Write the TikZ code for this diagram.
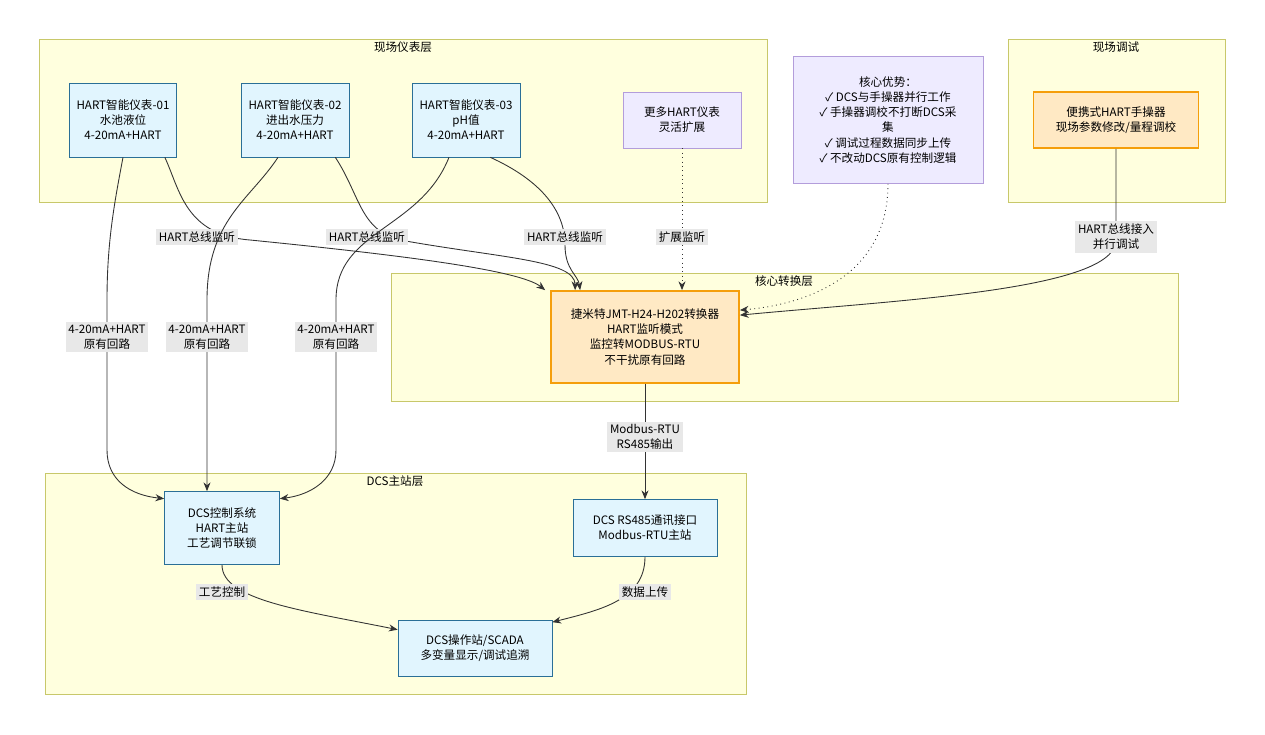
\documentclass[tikz,border=0pt]{standalone}
\usepackage{fontspec}
\setmainfont{Noto Sans CJK SC}
\usetikzlibrary{arrows.meta,positioning}
\definecolor{layerfill}{HTML}{FFFFDE}
\definecolor{layerdraw}{HTML}{C8C86A}
\definecolor{nodefill}{HTML}{E1F5FE}
\definecolor{nodedraw}{HTML}{2A6F97}
\definecolor{purfill}{HTML}{EEEBFF}
\definecolor{purdraw}{HTML}{B39DDB}
\definecolor{orfill}{HTML}{FFE9C4}
\definecolor{ordraw}{HTML}{F59E0B}
\definecolor{lblfill}{HTML}{E8E8E8}
\begin{document}
\begin{tikzpicture}[
  x=0.02cm, y=-0.02cm,
  > = {Stealth[length=5pt,width=4pt]},
  font=\fontsize{6.6}{8.6}\selectfont,
  layer/.style = {draw=layerdraw,fill=layerfill,line width=0.4pt},
  box/.style = {draw=nodedraw,fill=nodefill,align=center,inner sep=0pt},
  purple box/.style = {draw=purdraw,fill=purfill,align=center,inner sep=0pt},
  orange box/.style = {draw=ordraw,fill=orfill,line width=1pt,align=center,inner sep=0pt},
  lbl/.style = {fill=lblfill,inner sep=1.5pt,align=center},
  link/.style = {->,draw=black!80,line width=0.5pt},
  dotlink/.style = {->,draw=black!80,line width=0.5pt,dotted}
  ]
  \useasboundingbox (0,0) rectangle (1265,734);

  % layers
  \draw[layer] (39,39) rectangle (767,202);
  \node at (403,47) {现场仪表层};
  \draw[layer] (1008,39) rectangle (1225,202);
  \node at (1116,47) {现场调试};
  \draw[layer] (391,273) rectangle (1178,401);
  \node at (784,281) {核心转换层};
  \draw[layer] (45,473) rectangle (746,694);
  \node at (395,481) {DCS主站层};

  % nodes
  \node[box,minimum width=2.14cm,minimum height=1.48cm] (inst1) at (123,120) {HART智能仪表-01\\水池液位\\4-20mA+HART};
  \node[box,minimum width=2.16cm,minimum height=1.48cm] (inst2) at (295,120) {HART智能仪表-02\\进出水压力\\4-20mA+HART};
  \node[box,minimum width=2.16cm,minimum height=1.48cm] (inst3) at (466,120) {HART智能仪表-03\\pH值\\4-20mA+HART};
  \node[purple box,minimum width=2.36cm,minimum height=1.12cm] (more) at (682,120) {更多HART仪表\\灵活扩展};
  \node[purple box,minimum width=3.8cm,minimum height=2.54cm] (adv) at (888,120) {核心优势：\\✓ DCS与手操器并行工作\\✓ 手操器调校不打断DCS采\\集\\✓ 调试过程数据同步上传\\✓ 不改动DCS原有控制逻辑};
  \node[orange box,minimum width=3.3cm,minimum height=1.12cm] (hand) at (1116,120) {便携式HART手操器\\现场参数修改/量程调校};
  \node[orange box,minimum width=3.76cm,minimum height=1.84cm] (conv) at (645,337) {捷米特JMT-H24-H202转换器\\HART监听模式\\监控转MODBUS-RTU\\不干扰原有回路};
  \node[box,minimum width=2.3cm,minimum height=1.46cm] (dcs) at (222,528) {DCS控制系统\\HART主站\\工艺调节联锁};
  \node[box,minimum width=2.88cm,minimum height=1.14cm] (rs) at (645,528) {DCS RS485通讯接口\\Modbus-RTU主站};
  \node[box,minimum width=3.08cm,minimum height=1.12cm] (op) at (475,648) {DCS操作站/SCADA\\多变量显示/调试追溯};

  % monitoring links
  \draw[link] (inst1.south east) ++(-12,0) .. controls (180,190) and (185,235) .. (250,240)
    .. controls (400,255) and (520,270) .. ([xshift=-0.1cm]conv.north west);
  \node[lbl] at (197,237) {HART总线监听};
  \draw[link] (inst2.south east) ++(-14,0) .. controls (360,195) and (360,230) .. (400,240)
    .. controls (500,258) and (575,260) .. ([xshift=0.5cm]conv.north west);
  \node[lbl] at (367,237) {HART总线监听};
  \draw[link] (inst3.south east) ++(-30,0) .. controls (540,180) and (565,210) .. (565,245)
    .. controls (565,270) and (578,275) .. ([xshift=0.6cm]conv.north west);
  \node[lbl] at (565,237) {HART总线监听};
  \draw[dotlink] (more.south) -- (more.south |- conv.north);
  \node[lbl] at (682,237) {扩展监听};
  \draw[dotlink] (adv.south) .. controls (888,280) and (800,305) .. ([yshift=-0.4cm]conv.north east);
  \draw[link] (hand.south) -- (1116,240) .. controls (1116,290) and (900,300) .. ([yshift=-0.5cm]conv.north east);
  \node[lbl] at (1116,237) {HART总线接入\\并行调试};

  % original loops
  \draw[link] (inst1.south) ++(0,0) .. controls (115,200) and (107,240) .. (107,300)
    -- (107,450) .. controls (107,480) and (130,495) .. ([yshift=-0.15cm]dcs.north west);
  \node[lbl] at (107,337) {4-20mA+HART\\原有回路};
  \draw[link] (inst2.south) ++(-17,0) .. controls (250,200) and (207,220) .. (207,300)
    -- (dcs.north -| 207,0);
  \node[lbl] at (207,337) {4-20mA+HART\\原有回路};
  \draw[link] (inst3.south) ++(-17,0) .. controls (420,230) and (336,230) .. (336,300)
    -- (336,450) .. controls (336,480) and (310,495) .. ([yshift=-0.15cm]dcs.north east);
  \node[lbl] at (336,337) {4-20mA+HART\\原有回路};

  % to operator station
  \draw[link] (conv.south) -- (rs.north);
  \node[lbl] at (645,437) {Modbus-RTU\\RS485输出};
  \draw[link] (dcs.south) .. controls (222,600) and (300,610) .. ([yshift=-0.2cm]op.north west);
  \node[lbl] at (222,592) {工艺控制};
  \draw[link] (rs.south) .. controls (645,600) and (600,610) .. ([yshift=-0.05cm]op.north east);
  \node[lbl] at (645,592) {数据上传};
\end{tikzpicture}
\end{document}
